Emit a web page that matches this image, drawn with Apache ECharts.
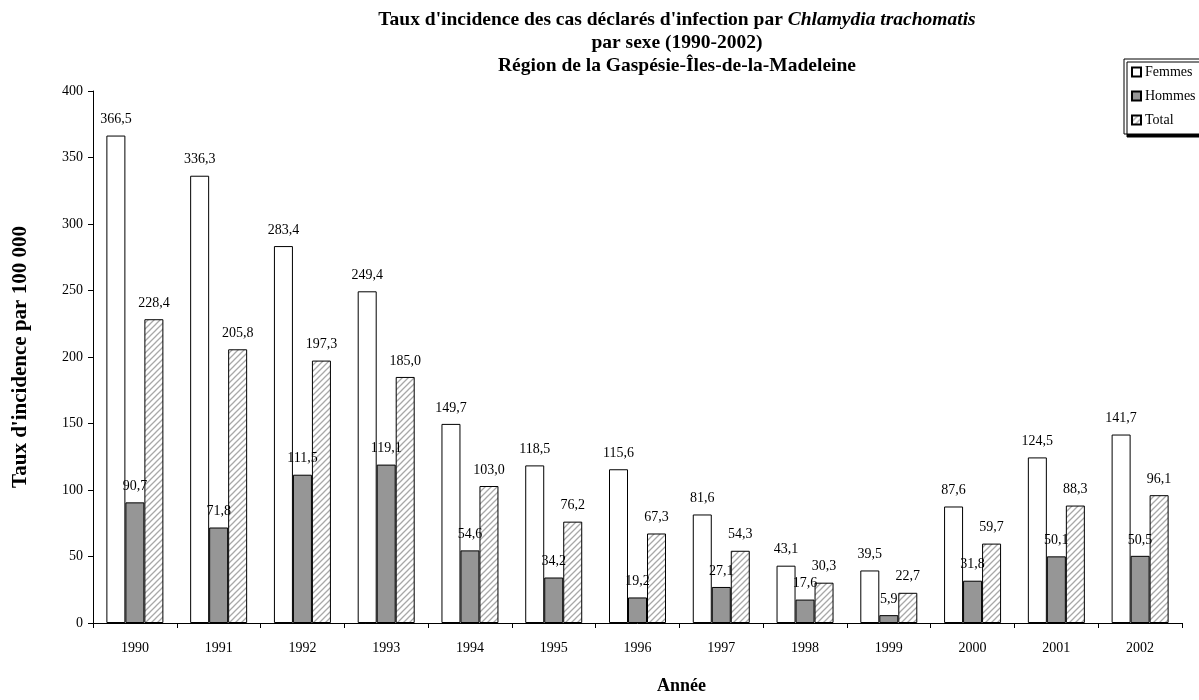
<!DOCTYPE html>
<html><head><meta charset="utf-8">
<script src="https://cdn.jsdelivr.net/npm/echarts@6/dist/echarts.min.js"></script>
<style>html,body{margin:0;padding:0;background:#fff}#c{width:1199px;height:700px}</style>
</head><body><div id="c"></div>
<script>
const years = ['1990','1991','1992','1993','1994','1995','1996','1997','1998','1999','2000','2001','2002'];
const femmes = [366.5,336.3,283.4,249.4,149.7,118.5,115.6,81.6,43.1,39.5,87.6,124.5,141.7];
const hommes = [90.7,71.8,111.5,119.1,54.6,34.2,19.2,27.1,17.6,5.9,31.8,50.1,50.5];
const total = [228.4,205.8,197.3,185.0,103.0,76.2,67.3,54.3,30.3,22.7,59.7,88.3,96.1];
const yTicks = [0,50,100,150,200,250,300,350,400];

const FONT = '"Liberation Serif","Times New Roman",serif';
function hatch(){
  const c = document.createElement('canvas'); c.width = 6; c.height = 6;
  const g = c.getContext('2d');
  g.fillStyle = '#fff'; g.fillRect(0,0,6,6);
  g.strokeStyle = '#a8a8a8'; g.lineWidth = 1.3;
  g.beginPath();
  g.moveTo(0,6); g.lineTo(6,0);
  g.moveTo(-1,1); g.lineTo(1,-1);
  g.moveTo(5,7); g.lineTo(7,5);
  g.stroke();
  return c;
}
const fmt = p => p.value.toFixed(1).replace('.', ',');
const label = {show:true, position:'top', distance:9, formatter:fmt, fontFamily:FONT, fontSize:14, color:'#000'};
const chart = echarts.init(document.getElementById('c'));
chart.setOption({
  animation:false,
  backgroundColor:'#fff',
  title:{
    text:'{b|Taux d\'incidence des cas déclarés d\'infection par }{i|Chlamydia trachomatis}\n{b|par sexe (1990-2002)}\n{b|Région de la Gaspésie-Îles-de-la-Madeleine}',
    left:672, top:3, textAlign:'center',
    textStyle:{rich:{
      b:{fontFamily:FONT, fontWeight:'bold', fontSize:19.5, color:'#000', lineHeight:23, align:'center'},
      i:{fontFamily:FONT, fontWeight:'bold', fontStyle:'italic', fontSize:19.5, color:'#000', lineHeight:23}
    }}
  },
  legend:{
    orient:'vertical', left:1124, top:59,
    backgroundColor:'#fff', borderColor:'#000', borderWidth:1,
    shadowColor:'#000', shadowOffsetX:3, shadowOffsetY:3, shadowBlur:0,
    padding:[6,10,7,7], itemGap:10, itemWidth:9, itemHeight:9, icon:'rect',
    textStyle:{fontFamily:FONT, fontSize:14, color:'#000', padding:[0,0,0,-1]},
    data:['Femmes','Hommes','Total']
  },
  grid:{left:93, right:17, top:91, bottom:72},
  xAxis:{
    type:'category', data:years,
    name:'Année', nameLocation:'middle', nameGap:54,
    nameTextStyle:{fontFamily:FONT, fontWeight:'bold', fontSize:18, color:'#000', padding:[0,0,0,88]},
    axisLine:{lineStyle:{color:'#000'}},
    axisTick:{show:true, length:5, inside:false, lineStyle:{color:'#000'}},
    axisLabel:{fontFamily:FONT, fontSize:14, color:'#000', margin:18}
  },
  yAxis:{
    type:'value', min:yTicks[0], max:yTicks[yTicks.length-1], interval:50,
    name:'Taux d\'incidence par 100 000', nameLocation:'middle', nameGap:62, nameRotate:90,
    nameTextStyle:{fontFamily:FONT, fontWeight:'bold', fontSize:21, color:'#000'},
    axisLine:{show:true, lineStyle:{color:'#000'}},
    axisTick:{show:true, length:5, lineStyle:{color:'#000'}},
    splitLine:{show:false},
    axisLabel:{fontFamily:FONT, fontSize:14, color:'#000', margin:10}
  },
  series:[
    {name:'Femmes', type:'bar', data:femmes, barWidth:19, barGap:'0%',
     itemStyle:{color:'#fff', borderColor:'#000', borderWidth:1}, label:label},
    {name:'Hommes', type:'bar', data:hommes, barWidth:19, barGap:'0%',
     itemStyle:{color:'#969696', borderColor:'#000', borderWidth:1}, label:label},
    {name:'Total', type:'bar', data:total, barWidth:19, barGap:'0%',
     itemStyle:{color:{image:hatch(), repeat:'repeat'}, borderColor:'#000', borderWidth:1}, label:label}
  ]
});
</script></body></html>
